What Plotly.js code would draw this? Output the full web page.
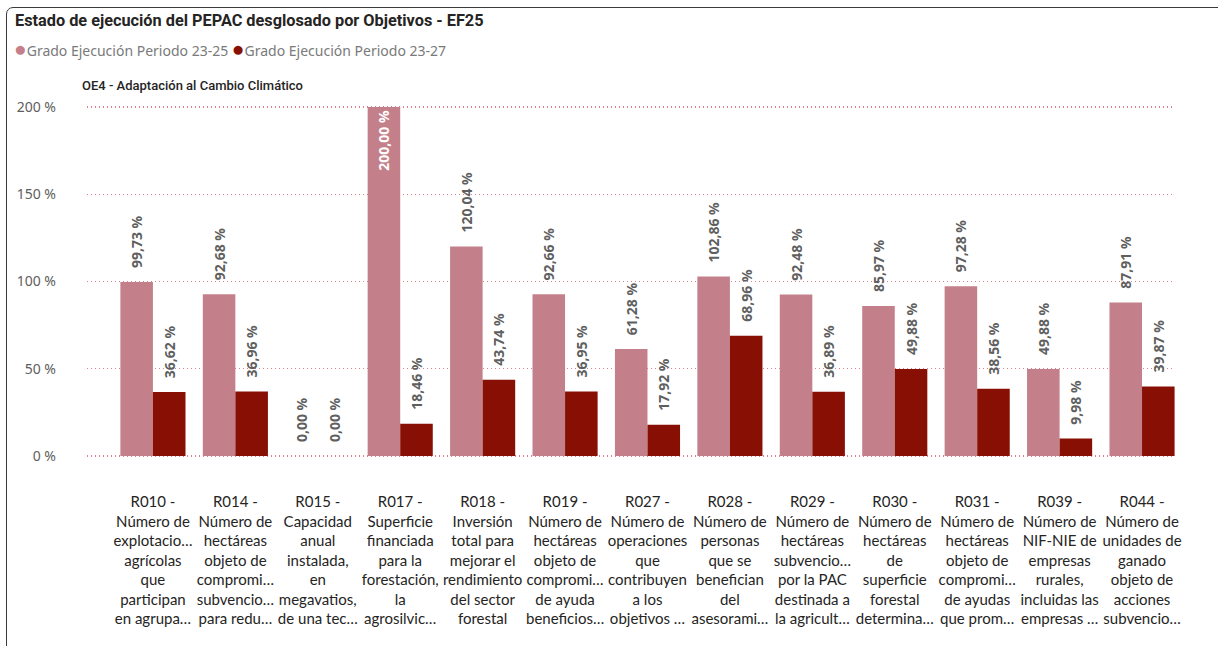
<!DOCTYPE html>
<html>
<head>
<meta charset="utf-8">
<script src="https://cdn.plot.ly/plotly-3.0.1.min.js"></script>
<style>
  html, body { margin:0; padding:0; background:#fff; overflow:hidden; }
  #frame { position:absolute; left:6px; top:7px; width:1260px; height:700px;
           border:1.5px solid #3a3a3a; border-radius:7px; pointer-events:none; }
  #chart { position:absolute; left:0; top:0; width:1218px; height:646px; }
</style>
</head>
<body>
<div id="chart"></div>
<div id="frame"></div>
<script>
const chartTitle = "Estado de ejecución del PEPAC desglosado por Objetivos - EF25";
const subTitle = "OE4 - Adaptación al Cambio Climático";
const seriesNames = ["Grado Ejecución Periodo 23-25", "Grado Ejecución Periodo 23-27"];
const seriesColors = ["#C4808A", "#870F04"];

const codes = ["R010","R014","R015","R017","R018","R019","R027","R028","R029","R030","R031","R039","R044"];
const labelLines = [
  ["R010 -","Número de","explotacio…","agrícolas","que","participan","en agrupa…"],
  ["R014 -","Número de","hectáreas","objeto de","compromi…","subvencio…","para redu…"],
  ["R015 -","Capacidad","anual","instalada,","en","megavatios,","de una tec…"],
  ["R017 -","Superficie","financiada","para la","forestación,","la","agrosilvic…"],
  ["R018 -","Inversión","total para","mejorar el","rendimiento","del sector","forestal"],
  ["R019 -","Número de","hectáreas","objeto de","compromi…","de ayuda","beneficios…"],
  ["R027 -","Número de","operaciones","que","contribuyen","a los","objetivos …"],
  ["R028 -","Número de","personas","que se","benefician","del","asesorami…"],
  ["R029 -","Número de","hectáreas","subvencio…","por la PAC","destinada a","la agricult…"],
  ["R030 -","Número de","hectáreas","de","superficie","forestal","determina…"],
  ["R031 -","Número de","hectáreas","objeto de","compromi…","de ayudas","que prom…"],
  ["R039 -","Número de","NIF-NIE de","empresas","rurales,","incluidas las","empresas …"],
  ["R044 -","Número de","unidades de","ganado","objeto de","acciones","subvencio…"]
];
const values2325 = [99.73, 92.68, 0.00, 200.00, 120.04, 92.66, 61.28, 102.86, 92.48, 85.97, 97.28, 49.88, 87.91];
const values2327 = [36.62, 36.96, 0.00, 18.46, 43.74, 36.95, 17.92, 68.96, 36.89, 49.88, 38.56, 9.98, 39.87];
const yTicks = [0, 50, 100, 150, 200];

const W = 1218, H = 646;
const M = {l:87, r:43, t:104, b:188};
const labelFont = "Noto Sans, Open Sans, sans-serif";
const tickFontX = "Lato, Noto Sans, sans-serif";
const titleFont = "Roboto, sans-serif";

function barTrace(i, vals) {
  const yMax = 200;
  const inside = vals.map(v => v >= yMax * 0.9);
  return {
    type: "bar", name: seriesNames[i], x: codes, y: vals,
    marker: {color: seriesColors[i]},
    texttemplate: inside.map(f => f ? "%{y:.2f} %" : "\u00a0\u00a0\u00a0%{y:.2f} %"),
    textposition: inside.map(f => f ? "inside" : "outside"),
    textangle: -90,
    insidetextanchor: "end", constraintext: "none",
    textfont: {family: labelFont, size: 14, color: inside.map(f => f ? "#ffffff" : "#5f5f5f"), weight: "bold"},
    cliponaxis: false, showlegend: false, hoverinfo: "skip"
  };
}

const data = [barTrace(0, values2325), barTrace(1, values2327)];

// plot area: y=0 at 456px, y=200 at 107px
const plotH = H - M.t - M.b;
const perUnit = (456 - 107) / 200;
const yLo = -(H - M.b - 456) / perUnit;
const yHi = (456 - M.t) / perUnit;

function px2x(p){ return (p - M.l) / (W - M.l - M.r); }
function px2y(p){ return (H - M.b - p) / plotH; }

const annotations = [
  {xref:"paper", yref:"paper", x:px2x(80), y:px2y(85), xanchor:"left", yanchor:"middle",
   text: subTitle, showarrow:false, font:{family:titleFont, size:13, color:"#252423", weight:500}},
  {xref:"paper", yref:"paper", x:px2x(12), y:px2y(48), xanchor:"left", yanchor:"middle",
   text: seriesNames.map((n,i)=>'<span style="color:'+seriesColors[i]+';font-size:21px">●</span>'+n).join(" "),
   showarrow:false, font:{family:labelFont, size:14, color:"#7a7a7a"}}
];

const layout = {
  width: W, height: H,
  margin: M,
  paper_bgcolor: "#ffffff", plot_bgcolor: "#ffffff",
  separators: ",.",
  barmode: "group", bargap: 0.21, bargroupgap: 0,
  title: {text: chartTitle, x: 15/W, xref:"container", xanchor:"left",
          y: 1 - 20/H, yref:"container", yanchor:"middle",
          font:{family:titleFont, size:16.3, color:"#252423", weight:"bold"}},
  xaxis: {
    type: "category", range: [-0.8, 12.4],
    tickvals: codes, ticktext: labelLines.map(l => l.join("<br>")),
    tickfont: {family: tickFontX, size: 15, color:"#252423"},
    tickangle: 0,
    showgrid:false, zeroline:false, showline:false, ticks:"",
    ticklabelstandoff: 33, fixedrange:true
  },
  yaxis: {
    range: [yLo, yHi], tickvals: yTicks, ticktext: yTicks.map(v => v + " %"),
    tickfont: {family: labelFont, size: 14, color:"#605E5C"},
    showgrid:true, gridcolor:"#E0808C", griddash:"1px,3px", gridwidth:1.3,
    zeroline:false, showline:false, ticks:"",
    ticklabelstandoff: 30, fixedrange:true
  },
  annotations: annotations,
  showlegend: false
};

Plotly.newPlot("chart", data, layout, {displayModeBar:false, staticPlot:true});
</script>
</body>
</html>
